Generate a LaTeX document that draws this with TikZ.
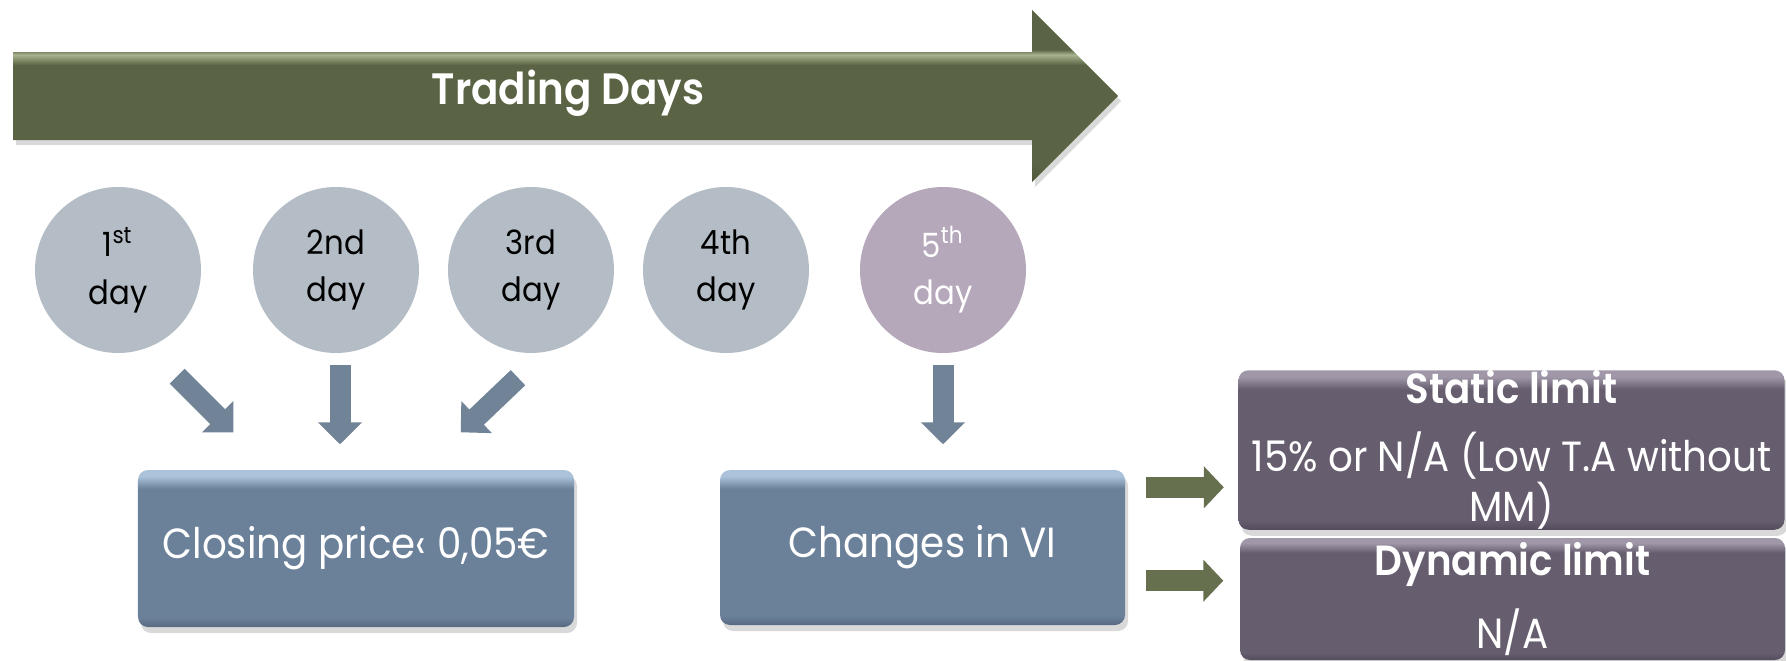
\documentclass[tikz,border=0pt]{standalone}
\usepackage{fontspec}
\setmainfont{Poppins}[FakeStretch=0.92, BoldFont={Poppins SemiBold}]
\usepackage{tikz}
\usetikzlibrary{arrows.meta,shapes,positioning,shadows}
\usepackage{xcolor}
\definecolor{tdgreen}{RGB}{90,100,68}
\definecolor{tdgreenlt}{RGB}{168,179,143}
\definecolor{tdgreendk}{RGB}{78,87,57}
\definecolor{daygrey}{RGB}{180,189,198}
\definecolor{daypurple}{RGB}{181,168,186}
\definecolor{slate}{RGB}{113,131,150}
\definecolor{sidegreen}{RGB}{102,112,79}
\definecolor{boxblue}{RGB}{107,128,153}
\definecolor{boxbluelt}{RGB}{170,195,218}
\definecolor{boxbluedk}{RGB}{88,106,130}
\definecolor{limitpurple}{RGB}{102,93,110}
\definecolor{limitpurplelt}{RGB}{160,152,168}
\definecolor{limitpurpledk}{RGB}{84,76,92}
\pgfdeclareverticalshading{bluebevel}{100bp}{color(0bp)=(boxbluedk); color(25bp)=(boxbluedk); color(28bp)=(boxblue); color(69bp)=(boxblue); color(73bp)=(boxbluelt); color(100bp)=(boxbluelt)}
\pgfdeclareverticalshading{purplebevel}{100bp}{color(0bp)=(limitpurpledk); color(25bp)=(limitpurpledk); color(28bp)=(limitpurple); color(69bp)=(limitpurple); color(73bp)=(limitpurplelt); color(100bp)=(limitpurplelt)}
\pgfdeclareverticalshading{greenbevel}{100bp}{color(0bp)=(tdgreendk); color(25bp)=(tdgreendk); color(30bp)=(tdgreen); color(59bp)=(tdgreen); color(62bp)=(tdgreenlt); color(63.5bp)=(tdgreen); color(100bp)=(tdgreen)}
\tikzstyle{dayc} = [circle, minimum size=1.66cm, inner sep=0pt, fill=daygrey, align=center, font=\fontsize{9.5}{13.5}\selectfont]
\tikzstyle{pricebox} = [rectangle, rounded corners=0.1cm, minimum width=4.36cm, minimum height=1.57cm, shading=bluebevel, text=white, align=center, font=\fontsize{12}{14}\selectfont, drop shadow={shadow xshift=0.03cm, shadow yshift=-0.06cm, opacity=0.3}]
\tikzstyle{limitbox} = [rectangle, rounded corners=0.1cm, minimum width=5.46cm, inner sep=0pt, shading=purplebevel, text=white, align=center, font=\fontsize{12}{13.3}\selectfont, drop shadow={shadow xshift=0.03cm, shadow yshift=-0.06cm, opacity=0.3}]
\tikzstyle{downarrow} = [line width=0.21cm, draw=slate, -{Triangle[width=0.43cm,length=0.22cm]}]
\tikzstyle{sidearrow} = [line width=0.21cm, draw=sidegreen, -{Triangle[width=0.41cm,length=0.2cm]}]

\begin{document}
\begin{tikzpicture}
\useasboundingbox (0,0) rectangle (17.86,-6.61);
% Trading days arrow
\shade[shading=greenbevel, drop shadow={shadow xshift=0.03cm, shadow yshift=-0.05cm, opacity=0.3}]
  (0.13,-0.52) -- (10.32,-0.52) -- (10.32,-0.10) -- (11.18,-0.96) -- (10.32,-1.82) -- (10.32,-1.40) -- (0.13,-1.40) -- cycle;
\node (tdays) [text=white, font=\fontsize{12.5}{14}\selectfont\bfseries] at (5.68,-0.93) {Trading Days};

% Days as circles
\node (d1) [dayc] at (1.18,-2.70) {1\textsuperscript{st}\\day};
\node (d2) [dayc, right of=d1, node distance=2.18cm] {2nd\\day};
\node (d3) [dayc, right of=d2, node distance=1.95cm] {3rd\\day};
\node (d4) [dayc, right of=d3, node distance=1.95cm] {4th\\day};
\node (d5) [dayc, right of=d4, node distance=2.17cm, fill=daypurple, text=white] {5\textsuperscript{th}\\day};

% Boxes
\node (closing) [pricebox, below of=d2, node distance=2.785cm, xshift=0.2cm] {Closing price‹ 0,05€};
\node (vi) [pricebox, below of=d5, node distance=2.775cm, xshift=-0.205cm, minimum width=4.05cm, minimum height=1.55cm] {Changes in VI};
\node (static) [limitbox, minimum height=1.56cm] at (15.115,-4.50) {\textbf{Static limit}\\[6pt]15\% or N/A (Low T.A without\\MM)};
\node (dynamic) [limitbox, minimum height=1.22cm, minimum width=5.45cm] at (15.125,-5.99) {\textbf{Dynamic limit}\\[5.5pt]N/A};

% Arrows
\draw[downarrow] ([yshift=-0.47cm]d1.-45) -- ([xshift=0.96cm,yshift=0.37cm]closing.north west);
\draw[downarrow] ([xshift=0.04cm,yshift=-0.11cm]d2.south) -- ([xshift=0.04cm,yshift=0.25cm]d2.south |- closing.north);
\draw[downarrow] ([xshift=-0.13cm,yshift=-0.24cm]d3.south) -- ([xshift=-1.14cm,yshift=0.37cm]closing.north east);
\draw[downarrow, shorten <=0.11cm, shorten >=0.25cm] (d5.south) -- (d5.south |- vi.north);
\coordinate (g1) at ([xshift=0.2cm,yshift=-0.18cm]vi.north east);
\coordinate (g2) at ([xshift=0.2cm,yshift=0.45cm]vi.south east);
\draw[sidearrow, shorten >=0.14cm] (g1) -- (g1 -| static.west);
\draw[sidearrow, shorten >=0.16cm] (g2) -- (g2 -| dynamic.west);
\end{tikzpicture}
\end{document}
